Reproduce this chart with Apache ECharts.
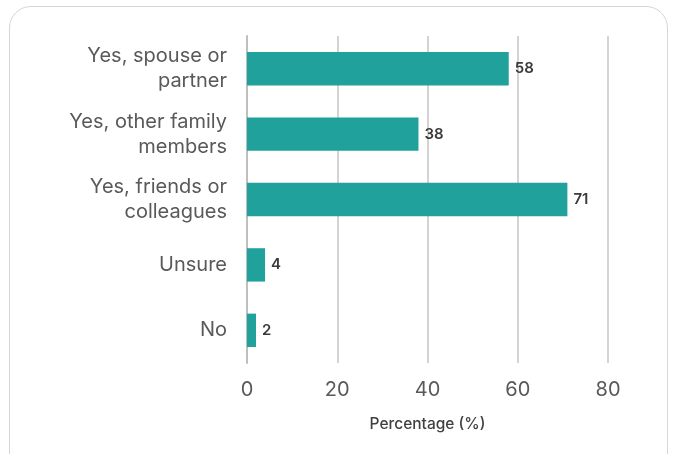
<!DOCTYPE html>
<html>
<head>
<meta charset="utf-8">
<script src="https://cdn.jsdelivr.net/npm/echarts@6/dist/echarts.min.js"></script>
<style>
html,body{margin:0;padding:0;background:#fff;}
#frame{position:absolute;left:9px;top:6px;width:659px;height:470px;border:1.5px solid #d6d6d6;border-radius:22px;box-sizing:border-box;}
#chart{position:absolute;left:0;top:0;width:676px;height:454px;}
</style>
</head>
<body>
<div id="frame"></div>
<div id="chart"></div>
<script>
const categories = ["Yes, spouse or\npartner", "Yes, other family\nmembers", "Yes, friends or\ncolleagues", "Unsure", "No"];
const values = [58, 38, 71, 4, 2];
const xTicks = [0, 20, 40, 60, 80];

const FONT = 'Inter, sans-serif';
const chart = echarts.init(document.getElementById('chart'), null, {renderer: 'canvas'});
chart.setOption({
  animation: false,
  grid: {left: 247, right: 68, top: 36, bottom: 91, containLabel: false},
  xAxis: {
    type: 'value', min: xTicks[0], max: xTicks[xTicks.length - 1], interval: 20,
    name: 'Percentage (%)', nameLocation: 'middle', nameGap: 53,
    nameTextStyle: {fontFamily: FONT, fontSize: 15.5, color: '#404040', fontWeight: 500},
    axisLine: {show: false}, axisTick: {show: false},
    axisLabel: {fontFamily: FONT, fontSize: 20, color: '#595959', margin: 17},
    splitLine: {show: true, lineStyle: {color: '#c4c4c4', width: 1.5}}
  },
  yAxis: {
    type: 'category', data: categories, inverse: true,
    axisLine: {show: true, lineStyle: {color: '#bfbfbf', width: 2}},
    axisTick: {show: false},
    axisLabel: {fontFamily: FONT, fontSize: 20, color: '#595959', margin: 20, lineHeight: 25, align: 'right'}
  },
  series: [{
    type: 'bar', data: values, barWidth: '51%',
    itemStyle: {color: '#20a19b'},
    label: {show: true, position: 'right', distance: 6, fontFamily: FONT, fontSize: 15, color: '#3a3a3a', fontWeight: 600}
  }]
});
</script>
</body>
</html>
